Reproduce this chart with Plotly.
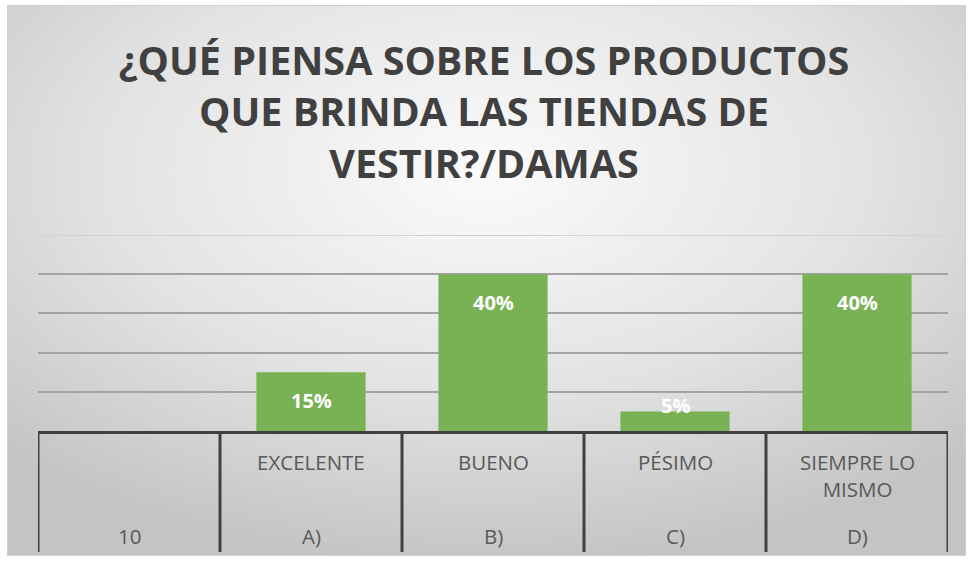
import base64
import plotly.graph_objects as go

# ---- data ----
categories = ["10", "A)", "B)", "C)", "D)"]
answers = ["", "EXCELENTE", "BUENO", "PÉSIMO", "SIEMPRE LO<br>MISMO"]
percent = [None, 15, 40, 5, 40]
grid_values = [10, 20, 30, 40]
y_max = 50
title_text = "¿QUÉ PIENSA SOBRE LOS PRODUCTOS<br>QUE BRINDA LAS TIENDAS DE<br>VESTIR?/DAMAS"

# ---- layout constants ----
W, H = 968, 562
L, R, T, B = 38, 20, 235, 131
PW, PH = W - L - R, H - T - B
FONT = "Open Sans, sans-serif"
BAR_COLOR = "#78B254"
DARK = "#404040"
LABEL = "#595959"

fig = go.Figure(
    go.Bar(
        x=categories,
        y=percent,
        marker=dict(color=BAR_COLOR, line=dict(width=0)),
        width=0.6,
        hoverinfo="skip",
    )
)

# data labels
for i, v in enumerate(percent):
    if v is None:
        continue
    fig.add_annotation(
        x=i, y=v, xref="x", yref="y",
        text=f"<b>{v}%</b>", showarrow=False,
        yanchor="middle", yshift=-28 if v >= 10 else 6,
        font=dict(color="white", size=20, family=FONT),
    )

# two-level category labels
for i, (c, a) in enumerate(zip(categories, answers)):
    if a:
        fig.add_annotation(
            x=i, y=0, xref="x", yref="paper", text=a, showarrow=False,
            yanchor="top", yshift=-15, align="center",
            font=dict(color=LABEL, size=20.5, family=FONT),
        )
    fig.add_annotation(
        x=i, y=0, xref="x", yref="paper", text=c, showarrow=False,
        yanchor="top", yshift=-89, align="center",
        font=dict(color=LABEL, size=20.5, family=FONT),
    )

# category dividers (table lines)
for i in range(len(categories) + 1):
    fig.add_shape(
        type="line", xref="x", yref="paper",
        x0=i - 0.5, x1=i - 0.5,
        ysizemode="pixel", yanchor=0, y0=0, y1=-121,
        line=dict(color=DARK, width=3),
    )

# top (faint) gridline at axis max
fig.add_shape(
    type="line", xref="paper", yref="y", x0=0, x1=1, y0=y_max, y1=y_max,
    line=dict(color="#d2d2d2", width=2), layer="below",
)

# gradient background as an inline SVG image
bx0, by0, bx1, by1 = 7, 5, 966, 556
bw, bh = bx1 - bx0, by1 - by0
svg = (
    f"<svg xmlns='http://www.w3.org/2000/svg' width='{bw}' height='{bh}' "
    f"viewBox='0 0 {bw} {bh}' preserveAspectRatio='none'>"
    "<defs><radialGradient id='g' cx='50%' cy='30%' r='72%'>"
    "<stop offset='0' stop-color='#fbfbfb'/>"
    "<stop offset='0.55' stop-color='#e3e3e3'/>"
    "<stop offset='1' stop-color='#c4c4c4'/>"
    "</radialGradient></defs>"
    f"<rect x='0.5' y='0.5' width='{bw-1}' height='{bh-1}' fill='url(#g)' stroke='#cfcfcf'/>"
    "</svg>"
)
uri = "data:image/svg+xml;base64," + base64.b64encode(svg.encode()).decode()

fig.update_layout(
    width=W, height=H,
    margin=dict(l=L, r=R, t=T, b=B, autoexpand=False),
    paper_bgcolor="white",
    plot_bgcolor="rgba(0,0,0,0)",
    showlegend=False,
    bargap=0.4,
    title=dict(
        text=title_text,
        x=0.5, xref="container", xanchor="center",
        y=1 - 75 / H, yref="container", yanchor="middle",
        font=dict(family=FONT, size=39.5, color=DARK, weight="bold"),
    ),
    images=[dict(
        source=uri, xref="paper", yref="paper",
        x=(bx0 - L) / PW, y=(H - B - by0) / PH,
        sizex=bw / PW, sizey=bh / PH,
        xanchor="left", yanchor="top", sizing="stretch", layer="below",
    )],
    xaxis=dict(
        type="category", categoryorder="array", categoryarray=categories,
        showticklabels=False, ticks="", showgrid=False,
        showline=True, linecolor=DARK, linewidth=3,
        range=[-0.5, len(categories) - 0.5], fixedrange=True,
    ),
    yaxis=dict(
        range=[0, y_max], tickvals=grid_values, showticklabels=False,
        showgrid=True, gridcolor="#a3a3a3", gridwidth=2,
        zeroline=False, showline=False, ticks="", fixedrange=True,
    ),
)

fig.write_html(
    "out.html",
    config={"displayModeBar": False},
    post_script="document.body.style.margin='0';document.body.style.padding='0';",
)
